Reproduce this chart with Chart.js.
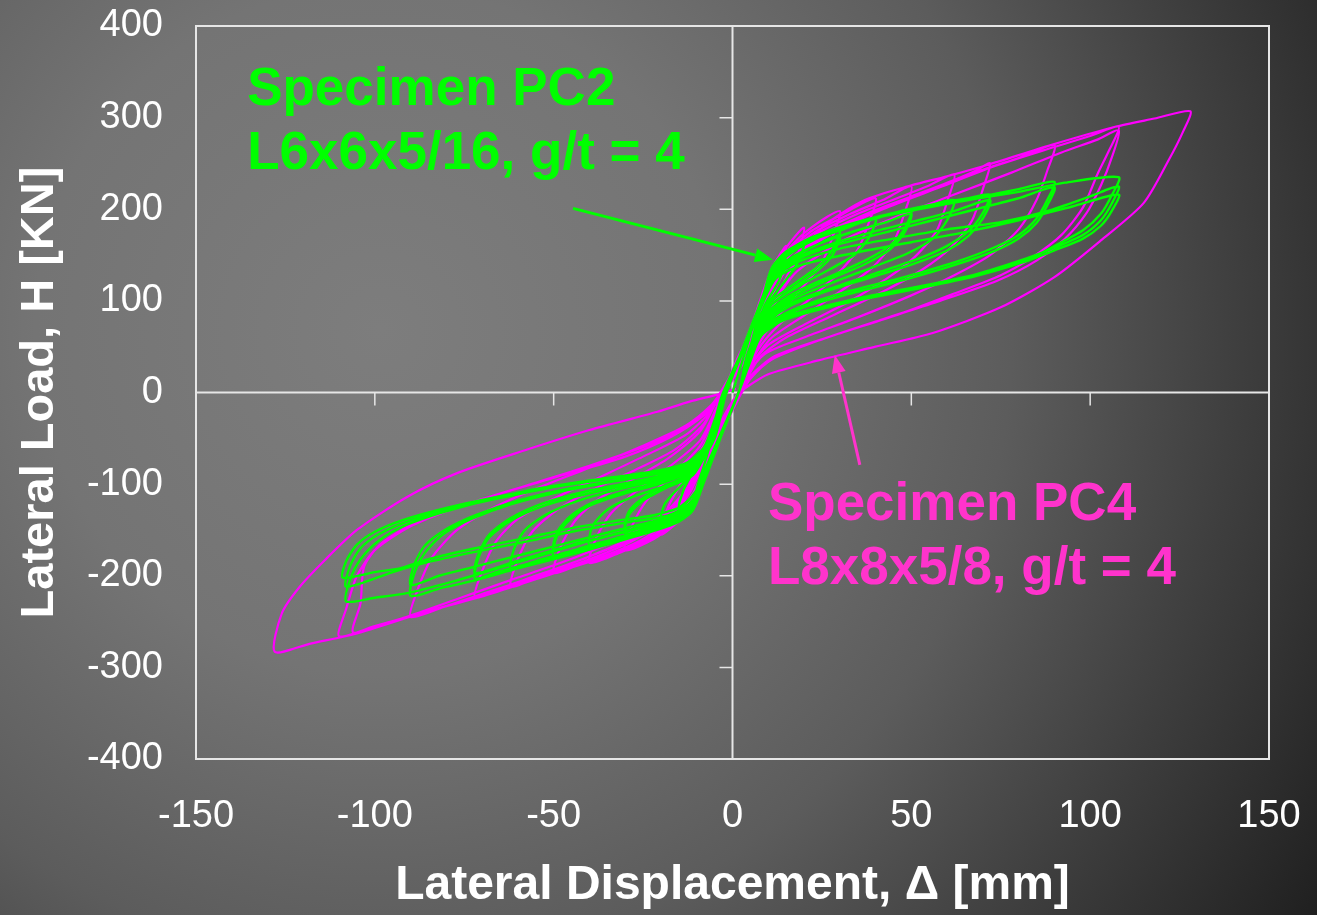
<!DOCTYPE html>
<html>
<head>
<meta charset="utf-8">
<title>Lateral load vs displacement</title>
<script src="https://cdn.jsdelivr.net/npm/chart.js@4.4.0/dist/chart.umd.min.js"></script>
<style>
  html, body { margin: 0; padding: 0; background: #333; }
  canvas { display: block; }
</style>
</head>
<body>
<canvas id="hyst" width="1317" height="915"></canvas>
<script>
// axis ticks
const xTicks = [-150, -100, -50, 0, 50, 100, 150];
const yTicks = [-400, -300, -200, -100, 0, 100, 200, 300, 400];

// Specimen PC4 (L8x8x5/8): recorded path [displacement mm, load kN], one cycle per line
const pc4Path = [
  [0,0],[3,40],[6,80],[10,125],[8,95],[5,50],[2,4],[-2,-35],[-6,-75],[-10,-115],[-8,-85],[-5,-40],[-2,-3],
  [2,40],[7,90],[11,135],[15,160],[13,128],[9,92],[5,48],[3,5],[-2,-35],[-7,-85],[-11,-120],[-15,-140],[-13,-108],[-8,-68],[-4,-25],[-3,-2],
  [2,38],[7,88],[11,130],[15,158],[20,180],[18,148],[14,112],[9,78],[5,42],[3,6],[-2,-32],[-7,-82],[-11,-118],[-15,-140],[-20,-155],[-18,-125],[-13,-90],[-7,-50],[-3,-6],
  [2,36],[7,85],[11,128],[16,158],[22,180],[30,198],[28,170],[25,142],[19,112],[12,80],[7,50],[3,12],[-2,-30],[-7,-80],[-11,-116],[-16,-142],[-22,-160],[-30,-172],[-28,-145],[-24,-118],[-17,-90],[-9,-58],[-4,-14],
  [1,34],[7,82],[11,125],[16,155],[22,176],[30,193],[40,212],[38,184],[35,156],[29,128],[21,100],[13,74],[7,46],[3,10],[-2,-28],[-7,-78],[-11,-114],[-16,-140],[-23,-160],[-31,-174],[-40,-186],[-38,-158],[-34,-132],[-27,-108],[-18,-82],[-9,-52],[-4,-12],
  [1,32],[7,80],[11,122],[16,152],[23,175],[33,195],[42,210],[50,225],[48,195],[45,164],[39,136],[30,110],[20,84],[11,60],[6,34],[3,3],[-2,-28],[-7,-76],[-11,-112],[-16,-138],[-24,-160],[-34,-178],[-43,-188],[-50,-197],[-48,-168],[-44,-140],[-38,-118],[-29,-97],[-18,-72],[-9,-42],[-4,-6],
  [1,30],[7,76],[11,118],[16,150],[24,174],[35,195],[46,212],[55,226],[62,238],[60,208],[57,176],[51,148],[43,124],[32,98],[20,74],[10,52],[5,28],[3,3],[-2,-26],[-7,-74],[-11,-110],[-17,-138],[-26,-162],[-37,-180],[-48,-194],[-56,-204],[-62,-212],[-60,-182],[-56,-152],[-49,-128],[-40,-108],[-28,-86],[-16,-62],[-8,-34],[-4,-4],
  [1,28],[7,72],[11,114],[17,148],[26,174],[38,196],[50,214],[62,232],[68,242],[72,250],[70,222],[67,188],[61,158],[53,134],[42,110],[28,84],[15,60],[8,40],[4,15],[2,-3],[-2,-30],[-8,-76],[-12,-110],[-18,-138],[-28,-162],[-40,-182],[-52,-198],[-63,-212],[-72,-224],[-70,-195],[-66,-162],[-60,-138],[-50,-116],[-38,-94],[-25,-70],[-13,-46],[-6,-20],[-3,2],
  [1,26],[7,68],[11,110],[17,146],[27,174],[40,198],[55,220],[70,243],[80,256],[90,270],[88,242],[85,210],[80,178],[72,150],[62,128],[50,106],[35,82],[20,60],[9,42],[4,18],[2,-2],[-2,-28],[-8,-72],[-12,-106],[-18,-136],[-28,-160],[-42,-182],[-56,-202],[-70,-220],[-80,-233],[-90,-245],[-88,-215],[-84,-180],[-77,-150],[-67,-126],[-55,-105],[-40,-82],[-25,-58],[-13,-36],[-6,-14],[-3,2],
  [1,24],[7,64],[11,106],[17,144],[28,174],[42,200],[58,224],[74,248],[90,268],[100,280],[108,290],[105,262],[102,238],[98,202],[92,172],[84,148],[75,128],[62,108],[47,86],[28,62],[12,40],[5,18],[2,-3],[-2,-26],[-8,-68],[-12,-102],[-18,-132],[-28,-158],[-42,-182],[-58,-204],[-74,-226],[-90,-244],[-100,-255],[-110,-266],[-108,-236],[-105,-200],[-100,-172],[-90,-146],[-76,-124],[-58,-102],[-40,-80],[-24,-58],[-12,-36],[-5,-12],[-2,3],
  [2,26],[8,64],[12,100],[18,132],[30,164],[46,192],[62,216],[78,240],[92,262],[102,276],[108,286],[106,256],[103,226],[99,196],[93,168],[85,144],[74,122],[58,100],[42,80],[25,58],[11,36],[5,15],[2,-4],[-2,-26],[-8,-66],[-12,-100],[-18,-128],[-28,-154],[-44,-180],[-60,-202],[-76,-224],[-92,-246],[-106,-262],[-104,-230],[-103,-190],[-98,-164],[-87,-139],[-68,-114],[-49,-92],[-30,-70],[-17,-48],[-8,-25],[-3,-5],
  [1,20],[7,56],[12,100],[17,140],[25,180],[37,210],[50,226],[60,236],[71,248],[89,270],[107,290],[118,299],[128,307],[126,285],[122,254],[115,207],[103,166],[90,126],[75,93],[56,65],[40,50],[24,35],[10,20],[4,6],[1,-4],[-3,-30],[-8,-72],[-12,-108],[-17,-140],[-21,-155],[-30,-172],[-49,-196],[-68,-220],[-87,-241],[-105,-263],[-118,-274],[-128,-283],[-126,-241],[-121,-212],[-114,-183],[-105,-150],[-91,-114],[-77,-88],[-58,-63],[-40,-41],[-21,-21],[-12,-10],[-4,-2],[1,4]
];

// Specimen PC2 (L6x6x5/16): recorded path [displacement mm, load kN], one cycle per line
const pc2Path = [
  [0,0],[4,50],[7,90],[10,120],[8,95],[5,50],[2,3],[-3,-42],[-7,-78],[-10,-105],[-8,-80],[-5,-40],[-2,-3],
  [3,50],[8,100],[11,130],[15,145],[13,122],[9,95],[5,50],[2,4],[-3,-44],[-8,-90],[-11,-112],[-15,-125],[-13,-100],[-9,-75],[-5,-38],[-2,-3],
  [3,50],[8,100],[11,132],[15,150],[20,163],[18,140],[14,118],[9,92],[5,50],[2,4],[-3,-45],[-8,-95],[-11,-122],[-15,-136],[-20,-142],[-19,-122],[-15,-104],[-10,-84],[-5,-48],[-2,-4],
  [3,48],[8,98],[11,130],[15,148],[21,163],[30,178],[28,156],[24,138],[17,118],[10,96],[5,50],[2,4],[-3,-45],[-8,-95],[-11,-123],[-15,-136],[-22,-146],[-30,-154],[-29,-134],[-25,-118],[-19,-105],[-11,-90],[-6,-52],[-3,-4],
  [3,48],[8,96],[11,126],[15,143],[22,158],[30,172],[28,150],[24,134],[17,114],[10,92],[5,48],[2,4],[-3,-44],[-8,-92],[-11,-120],[-16,-134],[-23,-143],[-30,-150],[-29,-130],[-25,-115],[-19,-102],[-11,-88],[-6,-50],[-3,-4],
  [3,48],[8,98],[11,132],[15,150],[22,166],[31,178],[40,190],[38,168],[34,150],[27,134],[18,115],[10,92],[5,48],[2,4],[-3,-45],[-8,-96],[-11,-125],[-15,-138],[-22,-148],[-31,-157],[-40,-166],[-39,-145],[-35,-128],[-28,-114],[-19,-102],[-11,-86],[-5,-50],[-2,-4],
  [3,48],[8,98],[11,133],[15,151],[22,167],[32,181],[41,191],[50,200],[48,178],[44,160],[37,144],[28,128],[17,108],[9,84],[4,40],[2,4],[-3,-46],[-8,-98],[-11,-126],[-15,-139],[-22,-149],[-32,-159],[-41,-168],[-50,-178],[-49,-156],[-45,-137],[-39,-122],[-30,-110],[-19,-98],[-10,-82],[-6,-48],[-3,-4],
  [3,46],[8,95],[11,128],[16,146],[24,162],[34,176],[43,186],[50,195],[48,174],[44,156],[37,140],[28,125],[17,105],[9,82],[4,40],[2,4],[-3,-45],[-8,-95],[-11,-122],[-16,-136],[-24,-146],[-34,-156],[-43,-164],[-50,-172],[-49,-152],[-45,-134],[-39,-120],[-30,-108],[-19,-96],[-10,-80],[-5,-46],[-2,-4],
  [3,48],[8,98],[11,134],[15,152],[22,168],[33,183],[44,194],[54,203],[62,210],[60,188],[56,168],[49,152],[40,138],[28,120],[16,100],[8,76],[4,38],[2,4],[-3,-46],[-8,-98],[-11,-127],[-15,-140],[-22,-150],[-33,-161],[-45,-173],[-55,-184],[-62,-192],[-61,-170],[-58,-150],[-52,-133],[-43,-118],[-31,-105],[-18,-93],[-10,-78],[-6,-45],[-3,-4],
  [3,48],[8,98],[11,135],[15,153],[22,169],[33,184],[45,196],[57,206],[66,212],[72,216],[70,196],[66,176],[60,160],[52,146],[40,130],[27,113],[15,95],[8,72],[4,35],[2,3],[-3,-46],[-8,-98],[-11,-128],[-15,-141],[-22,-151],[-34,-163],[-47,-176],[-58,-188],[-66,-196],[-72,-203],[-71,-180],[-68,-158],[-62,-140],[-53,-124],[-40,-110],[-26,-98],[-14,-86],[-8,-68],[-4,-30],[-2,-2],
  [3,46],[8,95],[12,128],[17,145],[26,160],[38,174],[50,186],[62,198],[72,210],[70,190],[66,171],[60,155],[51,141],[39,126],[26,110],[15,92],[8,70],[4,34],[2,3],[-3,-45],[-8,-96],[-12,-124],[-17,-137],[-26,-148],[-38,-160],[-50,-172],[-62,-186],[-72,-197],[-71,-176],[-68,-155],[-62,-137],[-53,-121],[-40,-107],[-26,-96],[-14,-84],[-8,-66],[-4,-28],[-2,-2],
  [3,48],[8,98],[11,136],[15,154],[23,170],[35,186],[48,198],[60,207],[70,214],[80,222],[90,230],[88,210],[85,190],[80,172],[73,158],[62,142],[48,126],[32,110],[18,92],[9,72],[5,40],[2,3],[-3,-46],[-8,-98],[-11,-128],[-15,-141],[-22,-151],[-35,-166],[-48,-180],[-60,-192],[-72,-205],[-82,-214],[-90,-222],[-89,-198],[-86,-175],[-81,-155],[-73,-138],[-62,-122],[-48,-108],[-33,-97],[-20,-88],[-11,-78],[-6,-55],[-3,-18],[-2,0],
  [3,46],[8,95],[12,128],[18,145],[28,160],[42,174],[56,188],[68,200],[80,212],[90,224],[88,204],[85,185],[80,168],[73,154],[62,139],[48,123],[32,107],[18,90],[9,70],[5,38],[2,3],[-3,-45],[-8,-95],[-12,-123],[-18,-136],[-30,-148],[-44,-162],[-58,-176],[-72,-190],[-82,-200],[-90,-210],[-89,-188],[-86,-167],[-80,-149],[-72,-134],[-60,-118],[-46,-105],[-31,-95],[-19,-86],[-11,-76],[-6,-52],[-3,-16],[-2,0],
  [3,48],[8,98],[11,136],[16,156],[25,173],[38,189],[52,200],[66,210],[80,219],[93,229],[108,235],[106,215],[103,195],[98,177],[91,162],[84,148],[70,130],[51,115],[33,101],[14,82],[8,66],[5,38],[2,3],[-3,-46],[-8,-98],[-11,-128],[-15,-138],[-21,-142],[-40,-162],[-58,-183],[-77,-205],[-91,-219],[-100,-224],[-108,-228],[-107,-205],[-104,-182],[-99,-162],[-92,-146],[-82,-132],[-70,-119],[-56,-106],[-40,-96],[-25,-88],[-14,-80],[-8,-66],[-5,-35],[-2,0],
  [3,46],[8,95],[12,126],[18,142],[30,157],[45,168],[60,178],[75,186],[88,198],[100,214],[108,225],[106,206],[103,188],[98,172],[90,158],[82,146],[68,129],[50,114],[32,100],[15,82],[8,64],[5,36],[2,3],[-3,-44],[-8,-94],[-12,-121],[-18,-134],[-30,-142],[-45,-152],[-58,-163],[-72,-174],[-86,-186],[-95,-196],[-108,-212],[-107,-190],[-104,-170],[-99,-155],[-91,-141],[-80,-128],[-66,-116],[-51,-104],[-36,-95],[-22,-87],[-13,-78],[-8,-62],[-5,-32],[-2,0],
  [3,45],[8,93],[12,124],[20,140],[35,153],[50,164],[65,175],[80,188],[95,203],[108,216],[106,198],[103,182],[98,168],[90,155],[82,143],[68,127],[50,112],[32,98],[15,80],[8,62],[5,34],[2,3],[-3,-44],[-9,-100],[-14,-124],[-22,-134],[-31,-139],[-45,-148],[-58,-159],[-72,-170],[-85,-182],[-93,-192],[-100,-196],[-109,-202],[-108,-184],[-105,-166],[-100,-152],[-92,-139],[-80,-126],[-66,-114],[-51,-103],[-36,-94],[-22,-86],[-13,-77],[-8,-60],[-5,-30],[-2,1]
];

const FONT = '"Liberation Sans", Arial, Helvetica, sans-serif';
const GREEN = '#00ff00';
const MAGENTA = '#ff00ff';
const PINK = '#ff33cc';

// callout labels and arrows, in data units
const notes = [
  { lines: ['Specimen PC2', 'L6x6x5/16, g/t = 4'], x: -135.7, y: 314, color: GREEN,
    arrow: { from: [-44.6, 201], to: [11.3, 145] } },
  { lines: ['Specimen PC4', 'L8x8x5/8, g/t = 4'], x: 9.9, y: -139, color: PINK,
    arrow: { from: [35.6, -79], to: [28.6, 41] } }
];

const toXY = path => path.map(p => ({ x: p[0], y: p[1] }));

const backdrop = {
  id: 'backdrop',
  beforeDraw(chart) {
    const { ctx, width, height } = chart;
    const g = ctx.createRadialGradient(380, 330, 0, 380, 330, 1150);
    g.addColorStop(0, '#7d7d7d');
    g.addColorStop(0.3, '#747474');
    g.addColorStop(0.55, '#5c5c5c');
    g.addColorStop(0.75, '#3e3e3e');
    g.addColorStop(1, '#1a1a1a');
    ctx.save();
    ctx.fillStyle = g;
    ctx.fillRect(0, 0, width, height);
    ctx.restore();
  }
};

// frame, zero lines and the small ticks hanging off them
const crossAxes = {
  id: 'crossAxes',
  beforeDatasetsDraw(chart) {
    const { ctx, chartArea: a, scales: { x, y } } = chart;
    const x0 = x.getPixelForValue(0);
    const y0 = y.getPixelForValue(0);
    ctx.save();
    ctx.strokeStyle = '#e6e6e6';
    ctx.lineWidth = 2;
    ctx.strokeRect(a.left, a.top, a.right - a.left, a.bottom - a.top);
    ctx.beginPath();
    ctx.moveTo(a.left, y0); ctx.lineTo(a.right, y0);
    ctx.moveTo(x0, a.top); ctx.lineTo(x0, a.bottom);
    ctx.stroke();
    ctx.lineWidth = 1.5;
    ctx.beginPath();
    xTicks.filter(v => v !== 0 && Math.abs(v) < 150).forEach(v => {
      const px = x.getPixelForValue(v);
      ctx.moveTo(px, y0); ctx.lineTo(px, y0 + 13);
    });
    yTicks.filter(v => v !== 0 && Math.abs(v) < 400).forEach(v => {
      const py = y.getPixelForValue(v);
      ctx.moveTo(x0 - 13, py); ctx.lineTo(x0, py);
    });
    ctx.stroke();
    ctx.restore();
  }
};

function drawArrow(ctx, x1, y1, x2, y2, color) {
  const ang = Math.atan2(y2 - y1, x2 - x1);
  const len = 18, half = 7;
  const bx = x2 - len * Math.cos(ang), by = y2 - len * Math.sin(ang);
  ctx.strokeStyle = color;
  ctx.fillStyle = color;
  ctx.lineWidth = 3;
  ctx.beginPath();
  ctx.moveTo(x1, y1);
  ctx.lineTo(bx, by);
  ctx.stroke();
  ctx.beginPath();
  ctx.moveTo(x2, y2);
  ctx.lineTo(bx + half * Math.sin(ang), by - half * Math.cos(ang));
  ctx.lineTo(bx - half * Math.sin(ang), by + half * Math.cos(ang));
  ctx.closePath();
  ctx.fill();
}

const callouts = {
  id: 'callouts',
  afterDatasetsDraw(chart) {
    const { ctx, scales: { x, y } } = chart;
    ctx.save();
    ctx.font = 'bold 53px ' + FONT;
    ctx.textBaseline = 'alphabetic';
    ctx.textAlign = 'left';
    notes.forEach(n => {
      ctx.fillStyle = n.color;
      const left = x.getPixelForValue(n.x);
      const base = y.getPixelForValue(n.y);
      n.lines.forEach((t, i) => ctx.fillText(t, left, base + i * 64));
      const f = n.arrow.from, t = n.arrow.to;
      drawArrow(ctx, x.getPixelForValue(f[0]), y.getPixelForValue(f[1]),
        x.getPixelForValue(t[0]), y.getPixelForValue(t[1]), n.color);
    });
    ctx.restore();
  }
};

new Chart(document.getElementById('hyst'), {
  type: 'scatter',
  data: {
    datasets: [
      { label: 'PC2', data: toXY(pc2Path), showLine: true, borderColor: GREEN,
        borderWidth: 2.4, pointRadius: 0, tension: 0.25, fill: false },
      { label: 'PC4', data: toXY(pc4Path), showLine: true, borderColor: MAGENTA,
        borderWidth: 2.2, pointRadius: 0, tension: 0.25, fill: false }
    ]
  },
  options: {
    responsive: false,
    devicePixelRatio: 1,
    animation: false,
    events: [],
    layout: { padding: { top: 26, right: 48, bottom: 0, left: 0 } },
    plugins: { legend: { display: false }, tooltip: { enabled: false } },
    scales: {
      x: {
        type: 'linear', min: -150, max: 150,
        afterFit(s) { s.height = 156; s.paddingLeft = 0; s.paddingRight = 0; },
        afterBuildTicks(s) { s.ticks = xTicks.map(v => ({ value: v })); },
        grid: { display: false, drawTicks: false },
        border: { display: false },
        ticks: { color: '#ffffff', padding: 35, font: { family: FONT, size: 38 } },
        title: { display: true, text: 'Lateral Displacement, Δ [mm]', color: '#ffffff',
          padding: { top: 0, bottom: 0 }, font: { family: FONT, size: 48, weight: 'bold' } }
      },
      y: {
        type: 'linear', min: -400, max: 400,
        afterFit(s) { s.width = 196; s.paddingTop = 0; s.paddingBottom = 0; },
        afterBuildTicks(s) { s.ticks = yTicks.map(v => ({ value: v })); },
        grid: { display: false, drawTicks: false },
        border: { display: false },
        ticks: { color: '#ffffff', padding: 33, font: { family: FONT, size: 38 } },
        title: { display: true, text: 'Lateral Load, H [KN]', color: '#ffffff',
          padding: { top: 12, bottom: 0 }, font: { family: FONT, size: 47, weight: 'bold' } }
      }
    }
  },
  plugins: [backdrop, crossAxes, callouts]
});
</script>
</body>
</html>
